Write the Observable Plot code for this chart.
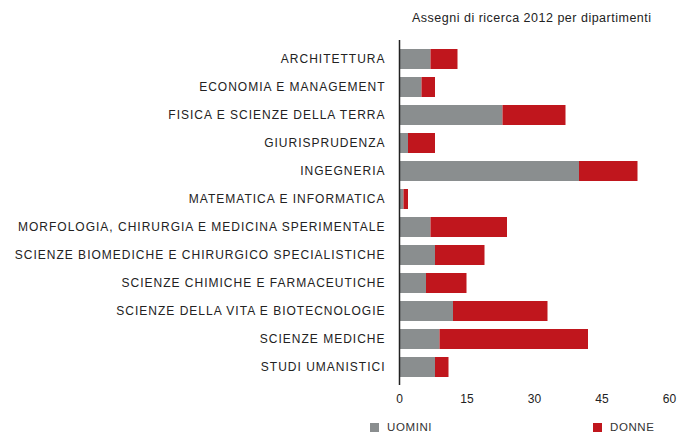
<!DOCTYPE html>
<html>
<head>
<meta charset="utf-8">
<script src="https://cdn.jsdelivr.net/npm/d3@7"></script>
<script src="https://cdn.jsdelivr.net/npm/@observablehq/plot@0.6"></script>
<style>
  html, body { margin: 0; padding: 0; background: #fff; }
  body { width: 700px; height: 434px; overflow: hidden; font-family: "Liberation Sans", Arial, sans-serif; }
  #title { height: 30px; line-height: 36px; padding-left: 412px; font-size: 12.5px; letter-spacing: 0.5px; color: #222; white-space: nowrap; }
  #legend { position: relative; height: 24px; font-size: 11.5px; color: #333; letter-spacing: 0.6px; }
  .item { position: absolute; top: 11px; display: flex; align-items: center; gap: 8px; }
  .sw { width: 9px; height: 9px; display: inline-block; }
  g[aria-label="y-axis tick label"] text { letter-spacing: 1px; }
</style>
</head>
<body>
<div id="title"></div>
<div id="chart"></div>
<div id="legend"></div>
<script>
const titleText = "Assegni di ricerca 2012 per dipartimenti";
const departments = [
  "ARCHITETTURA",
  "ECONOMIA E MANAGEMENT",
  "FISICA E SCIENZE DELLA TERRA",
  "GIURISPRUDENZA",
  "INGEGNERIA",
  "MATEMATICA E INFORMATICA",
  "MORFOLOGIA, CHIRURGIA E MEDICINA SPERIMENTALE",
  "SCIENZE BIOMEDICHE E CHIRURGICO SPECIALISTICHE",
  "SCIENZE CHIMICHE E FARMACEUTICHE",
  "SCIENZE DELLA VITA E BIOTECNOLOGIE",
  "SCIENZE MEDICHE",
  "STUDI UMANISTICI"
];
const uomini = [7, 5, 23, 2, 40, 1, 7, 8, 6, 12, 9, 8];
const donne  = [6, 3, 14, 6, 13, 1, 17, 11, 9, 21, 33, 3];
const series = ["UOMINI", "DONNE"];
const colors = ["#8a8e8f", "#c0161d"];
const xTicks = [0, 15, 30, 45, 60];

const rows = [];
departments.forEach((d, i) => {
  rows.push({dept: d, genere: series[0], value: uomini[i]});
  rows.push({dept: d, genere: series[1], value: donne[i]});
});

document.getElementById("title").textContent = titleText;

const chart = Plot.plot({
  width: 700,
  height: 380,
  marginTop: 10,
  marginBottom: 25,
  marginLeft: 399,
  marginRight: 31,
  style: {fontFamily: "'Liberation Sans', Arial, sans-serif", fontSize: "12px", color: "#222", background: "#fff"},
  x: {domain: [0, 60], ticks: xTicks, tickSize: 0, tickPadding: 9, label: null},
  y: {domain: departments, padding: 0.3, tickSize: 0, tickPadding: 15, label: null},
  color: {domain: series, range: colors},
  marks: [
    Plot.barX(rows, Plot.stackX({y: "dept", x: "value", fill: "genere", order: null})),
    Plot.ruleX([0], {stroke: "#222", strokeWidth: 1.5}),
    Plot.axisX({ticks: xTicks, tickSize: 0, tickPadding: 9, fontSize: 12, label: null}),
    Plot.axisY({tickSize: 0, tickPadding: 14, fontSize: 12, label: null})
  ]
});
document.getElementById("chart").appendChild(chart);

const legend = document.getElementById("legend");
const lx = [370, 593];
series.forEach((s, i) => {
  const it = document.createElement("div");
  it.className = "item";
  it.style.left = lx[i] + "px";
  const sw = document.createElement("span");
  sw.className = "sw";
  sw.style.background = colors[i];
  const t = document.createElement("span");
  t.textContent = s;
  it.appendChild(sw);
  it.appendChild(t);
  legend.appendChild(it);
});
</script>
</body>
</html>
